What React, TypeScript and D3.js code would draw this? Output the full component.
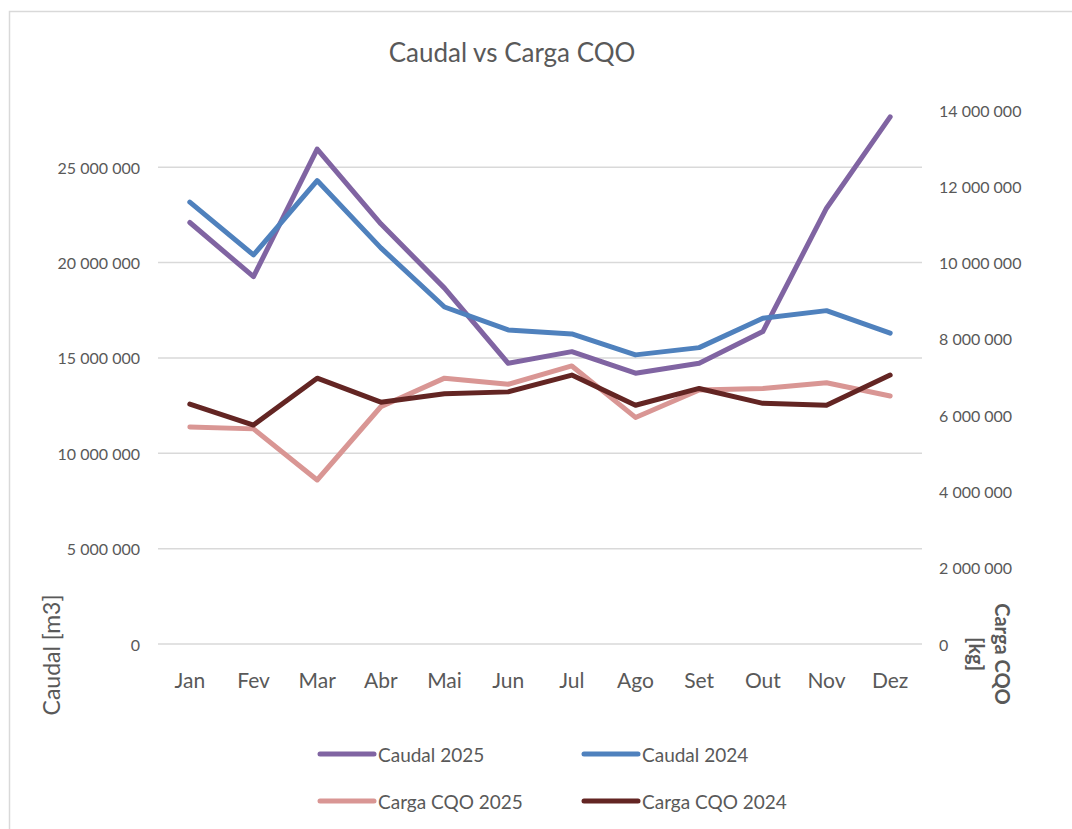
import React from "react";
import * as d3 from "d3";

const months = ["Jan", "Fev", "Mar", "Abr", "Mai", "Jun", "Jul", "Ago", "Set", "Out", "Nov", "Dez"];
const caudal2025 = [22100000, 19260000, 25950000, 22030000, 18660000, 14720000, 15330000, 14200000, 14720000, 16380000, 22850000, 27640000];
const caudal2024 = [23170000, 20400000, 24300000, 20770000, 17670000, 16470000, 16260000, 15160000, 15540000, 17080000, 17480000, 16300000];
const carga2025 = [5690000, 5640000, 4300000, 6220000, 6970000, 6810000, 7290000, 5940000, 6660000, 6700000, 6850000, 6500000];
const carga2024 = [6290000, 5740000, 6970000, 6340000, 6560000, 6610000, 7050000, 6260000, 6700000, 6310000, 6260000, 7050000];
const leftTicks = [0, 5000000, 10000000, 15000000, 20000000, 25000000];
const rightTicks = [0, 2000000, 4000000, 6000000, 8000000, 10000000, 12000000, 14000000];

const series = [
  { name: "Caudal 2025", values: caudal2025, color: "#8064A2", axis: "left" },
  { name: "Caudal 2024", values: caudal2024, color: "#4F81BD", axis: "left" },
  { name: "Carga CQO 2025", values: carga2025, color: "#D99694", axis: "right" },
  { name: "Carga CQO 2024", values: carga2024, color: "#632523", axis: "right" },
];

const FONT = "Lato, 'Open Sans', sans-serif";
const TXT = "#595959";

export default function App() {
  const W = 1072, H = 829;
  const plot = { left: 158, right: 922, top: 110, bottom: 644 };
  const x = d3.scaleBand<string>().domain(months).range([plot.left, plot.right]);
  const yL = d3.scaleLinear().domain([0, 28000000]).range([plot.bottom, plot.top]);
  const yR = d3.scaleLinear().domain([0, 14000000]).range([plot.bottom, plot.top]);
  const fmt = (v: number) => d3.format(",")(v).replace(/,/g, " ");
  const cx = (m: string) => (x(m) as number) + x.bandwidth() / 2;

  const legendItems = [
    { s: series[0], lx: 320, ly: 754 },
    { s: series[1], lx: 584, ly: 754 },
    { s: series[2], lx: 320, ly: 801 },
    { s: series[3], lx: 584, ly: 801 },
  ];

  return (
    <svg width={W} height={H} style={{ position: "absolute", left: 0, top: 0, background: "#fff" }} fontFamily={FONT}>
      <rect x={9.5} y={11.5} width={W + 20} height={H + 20} fill="#fff" stroke="#D9D9D9" strokeWidth={1.5} />
      <text x={512} y={55} textAnchor="middle" dominantBaseline="middle" fontSize={26} fill={TXT}>Caudal vs Carga CQO</text>
      {leftTicks.map((t) => (
        <g key={"l" + t}>
          <line x1={plot.left} x2={plot.right} y1={yL(t)} y2={yL(t)} stroke="#D9D9D9" strokeWidth={1.5} />
          <text x={140} y={yL(t)} textAnchor="end" dominantBaseline="central" fontSize={16} fill={TXT}>{fmt(t)}</text>
        </g>
      ))}
      {rightTicks.map((t) => (
        <text key={"r" + t} x={939} y={yR(t)} textAnchor="start" dominantBaseline="central" fontSize={16} fill={TXT}>{fmt(t)}</text>
      ))}
      {months.map((m) => (
        <text key={m} x={cx(m)} y={679} textAnchor="middle" dominantBaseline="central" fontSize={21} fill={TXT}>{m}</text>
      ))}
      <text transform="translate(51,655) rotate(-90)" textAnchor="middle" dominantBaseline="central" fontSize={23} fill={TXT}>Caudal [m3]</text>
      <g transform="translate(991,654) rotate(90)">
        <text x={0} y={-12} textAnchor="middle" dominantBaseline="central" fontSize={20} fontWeight="bold" fill={TXT}>Carga CQO</text>
        <text x={0} y={14} textAnchor="middle" dominantBaseline="central" fontSize={20} fontWeight="bold" fill={TXT}>[kg]</text>
      </g>
      {series.map((s) => {
        const y = s.axis === "left" ? yL : yR;
        const line = d3.line<number>().x((_, i) => cx(months[i])).y((v) => y(v));
        return (
          <path key={s.name} d={line(s.values) as string} fill="none" stroke={s.color} strokeWidth={5} strokeLinecap="round" strokeLinejoin="round" />
        );
      })}
      {legendItems.map(({ s, lx, ly }) => (
        <g key={s.name}>
          <line x1={lx} x2={lx + 54} y1={ly} y2={ly} stroke={s.color} strokeWidth={5} strokeLinecap="round" />
          <text x={lx + 58} y={ly} dominantBaseline="central" fontSize={19} fill={TXT}>{s.name}</text>
        </g>
      ))}
    </svg>
  );
}
